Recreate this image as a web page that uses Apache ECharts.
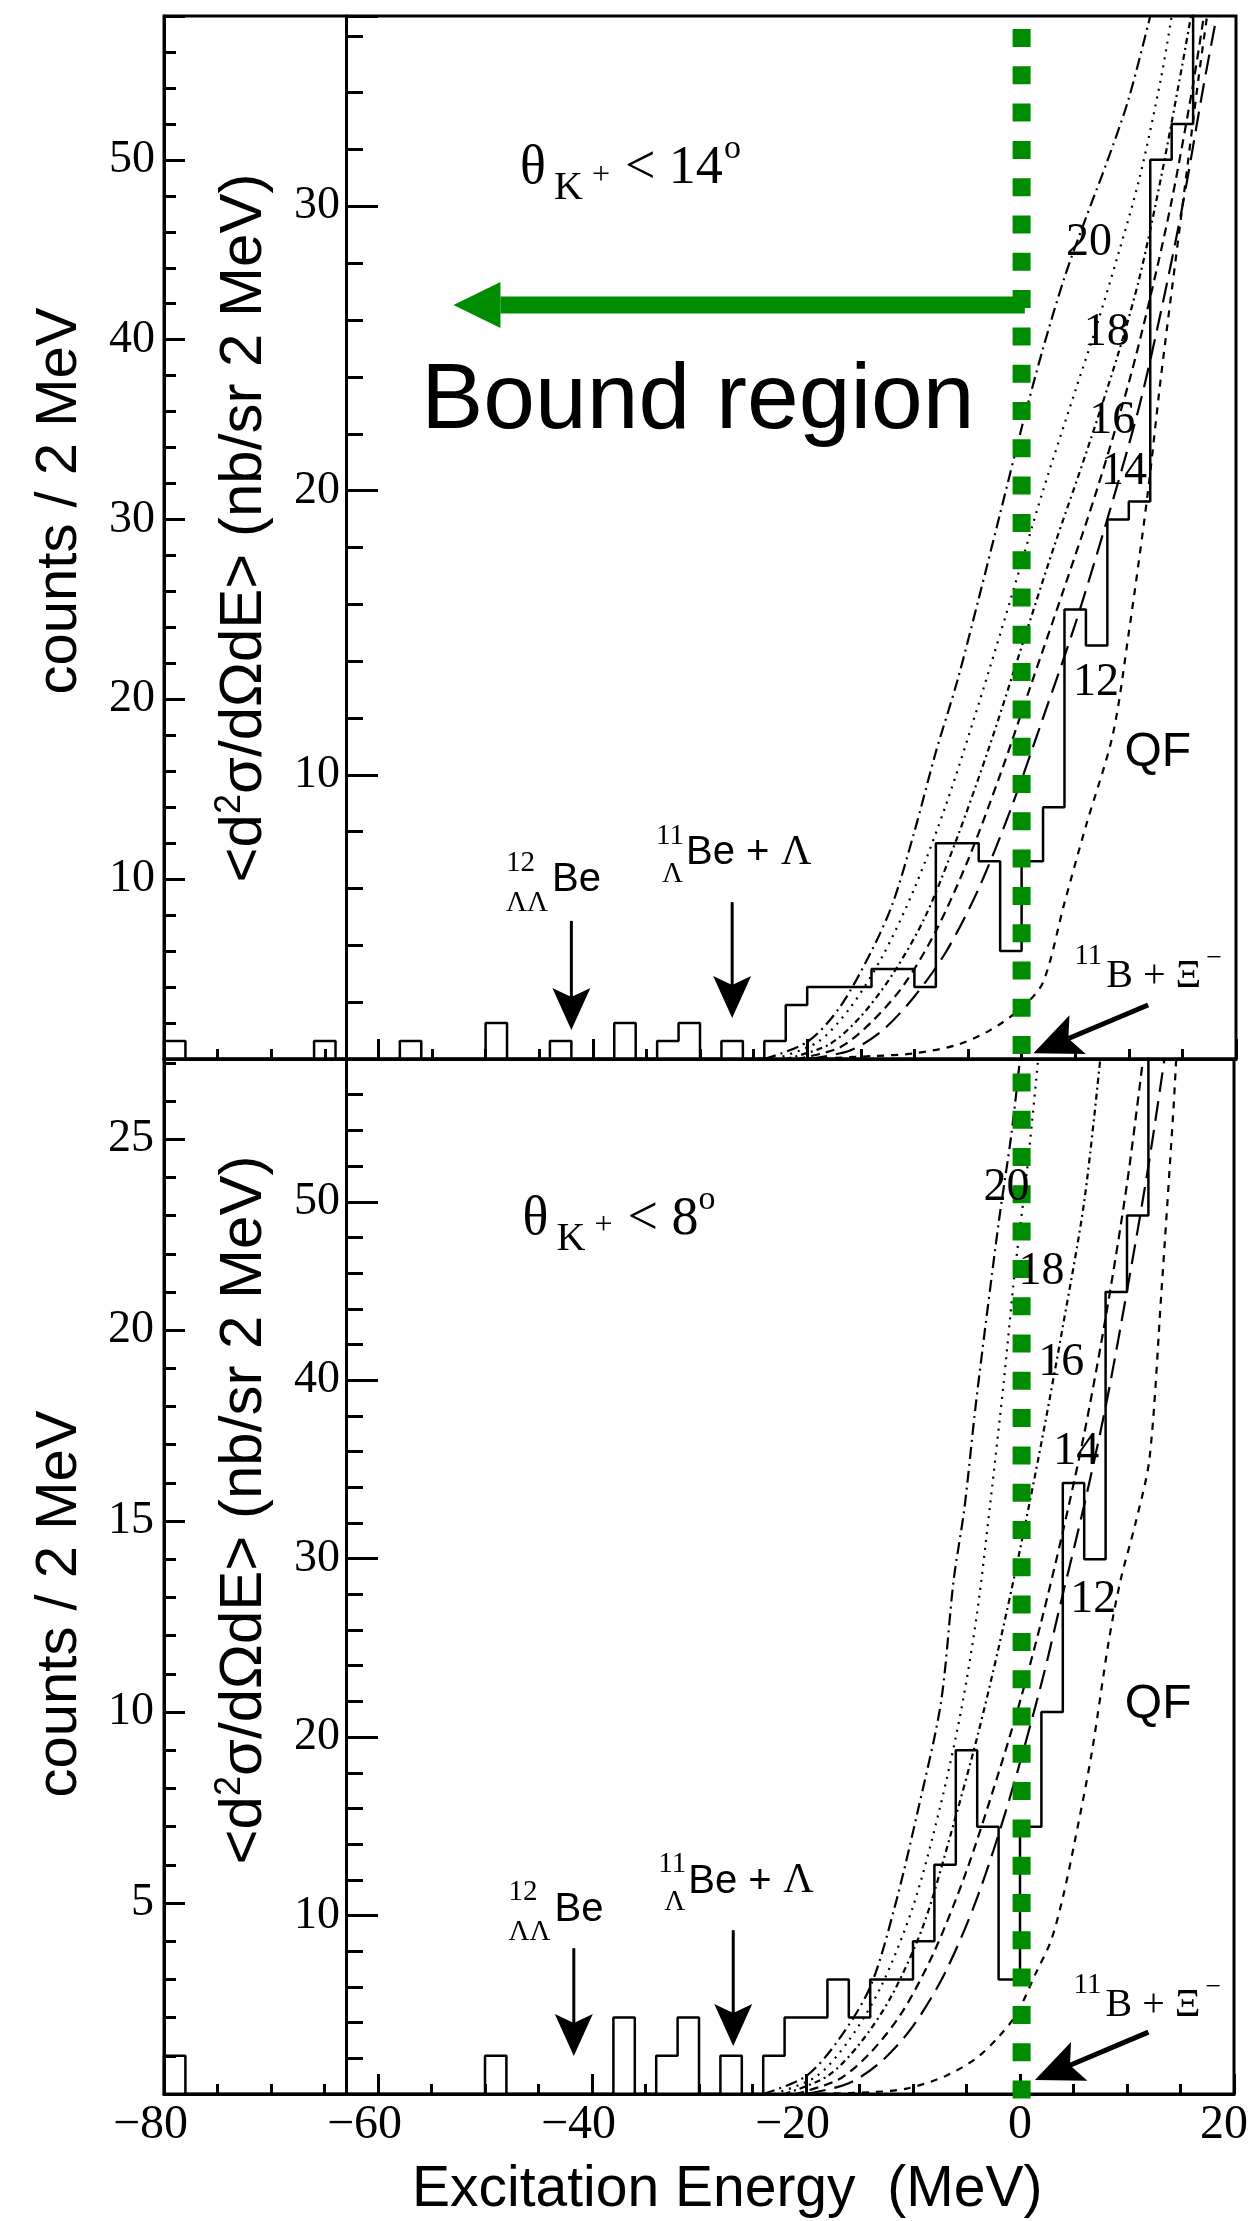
<!DOCTYPE html>
<html>
<head>
<meta charset="utf-8">
<script src="https://cdn.jsdelivr.net/npm/echarts@6/dist/echarts.min.js"></script>
<style>
html,body{margin:0;padding:0;background:#ffffff;}
#chart{width:1251px;height:2221px;}
</style>
</head>
<body>
<div id="chart"></div>
<script>
// ---------------- DATA ----------------
const binLeftEdges = [-80,-78,-76,-74,-72,-70,-68,-66,-64,-62,-60,-58,-56,-54,-52,-50,-48,-46,-44,-42,-40,-38,-36,-34,-32,-30,-28,-26,-24,-22,-20,-18,-16,-14,-12,-10,-8,-6,-4,-2,0,2,4,6,8,10,12,14,16,18];
const upperCounts = [1,0,0,0,0,0,0,1,0,0,0,1,0,0,0,2,0,0,1,0,0,2,0,1,2,0,1,0,1,3,4,4,4,5,5,4,12,12,11,6,11,14,25,23,30,31,50,52,66,70];
const lowerCounts = [1,0,0,0,0,0,0,0,0,0,0,0,0,0,0,1,0,0,0,0,0,2,0,1,2,0,1,0,1,2,2,3,2,3,3,4,6,9,7,3,7,10,16,14,21,23,30,34,38,40];

// theoretical spectra, [E (MeV), nb/sr 2MeV]
const upperV20 = [[-24,0],[-20,0.6],[-17,1.8],[-14,3.8],[-12,5.5],[-10,8],[-8,10.8],[-6,13.3],[-4,16.2],[-2,19.2],[0,22.2],[2,25],[4,27.5],[6,29.6],[8,31.6],[10,33.8],[12,36.7]];
const upperV18 = [[-23,0],[-19,0.6],[-16,1.8],[-13,3.6],[-10,6],[-7,9],[-4,12.5],[-1,16.2],[2,20],[5,23.5],[7,25.8],[9,28.3],[11,31],[13,34.5],[14,36.7]];
const upperV16 = [[-22,0],[-18,0.5],[-15,1.5],[-12,3],[-9,5],[-6,7.8],[-3,11],[0,14.5],[3,18],[6,21.3],[9,24.8],[11,27.5],[13,31],[15,35],[15.8,36.7]];
const upperV14 = [[-21,0],[-17,0.4],[-14,1.3],[-11,2.6],[-8,4.5],[-5,7],[-2,10],[1,13.3],[4,16.6],[7,20],[10,23.8],[12,26.8],[14,30.2],[16,34.3],[17,36.7]];
const upperV12 = [[-20,0],[-16,0.3],[-13,1],[-10,2.2],[-7,3.8],[-4,6],[-1,8.8],[2,12],[5,15.3],[8,19],[11,23],[13,26.3],[15,30],[17,34.3],[18.2,36.7]];
const upperQF  = [[-20,0],[-14,0.1],[-10,0.2],[-6,0.5],[-3,1],[0,1.8],[2,2.7],[4,5.5],[6,8.2],[8.5,11.4],[10,15],[11.7,19.7],[13,24],[15,30],[16.5,34.5],[17.3,36.7]];

const lowerV20 = [[-24,0],[-20,1],[-17,3],[-14,6],[-11.7,10.5],[-9.5,16],[-7.4,21.9],[-6.2,28.8],[-5.2,32.8],[-4.1,38.8],[-2,48.8],[-0.8,53.8],[0,58]];
const lowerV18 = [[-23,0],[-19,1],[-16,3],[-13,6],[-10,10.5],[-7.5,16],[-5.5,21.5],[-4,27],[-2.8,33],[-1.5,40],[-0.5,46],[0.7,52],[1.7,58]];
const lowerV16 = [[-22,0],[-18,1],[-15,2.8],[-12,5.5],[-9,9.5],[-6.5,14.5],[-4,20],[-2,25],[0,30.5],[2,36.5],[4,43],[6,50],[7.5,58]];
const lowerV14 = [[-21,0],[-17,0.8],[-14,2.3],[-11,4.6],[-8,8],[-5,12.5],[-2,18],[0,22],[2,26.5],[4,31.5],[6,37],[8,43.5],[10,51],[11.5,58]];
const lowerV12 = [[-20,0],[-16,0.6],[-13,1.8],[-10,3.8],[-7,6.8],[-4,11],[-1,16.5],[2,23],[4,28],[6,33],[8,38.5],[10,45],[12,52],[13.5,58]];
const lowerQF  = [[-20,0],[-14,0.1],[-10.6,0.3],[-7,1],[-4.1,2],[-2,3.2],[-0.3,4.5],[1.5,6.8],[2.9,8.6],[4,11],[5.1,14.1],[6.7,19.1],[8.3,25.4],[9.4,28.8],[10.8,32],[12.1,35.6],[13.2,44.8],[14.3,54.8],[14.6,58]];

const xTicks = [-80,-60,-40,-20,0,20];
const binWidth = 2;

// ---------------- STYLE / LAYOUT ----------------
const SERIF = "'Liberation Serif','Times New Roman','DejaVu Serif',serif";
const SANS = "'Liberation Sans',Arial,Helvetica,sans-serif";
const BLACK = '#000000';
const GREEN = '#008c00';
const frame = {color: BLACK, width: 3};

const curveStyle = {
  v20: [12,5,2,5],
  v18: [2,6],
  v16: [6,4,2,4],
  v14: [9,6],
  v12: [20,9],
  qf:  [7,7]
};

function histPoints(edges, counts) {
  const pts = [[edges[0], 0]];
  edges.forEach((e, i) => { pts.push([e, counts[i]]); pts.push([e + binWidth, counts[i]]); });
  return pts;
}

function xAxisCfg(gi, withLabels) {
  return {
    type: 'value', gridIndex: gi, min: -80, max: 20, interval: 20,
    axisLine: {show: true, onZero: false, lineStyle: frame},
    axisTick: {show: true, inside: true, length: 20, lineStyle: frame},
    minorTick: {show: true, splitNumber: 4, length: 10, lineStyle: frame},
    splitLine: {show: false}, minorSplitLine: {show: false},
    axisLabel: withLabels ? {
      show: true, margin: 7, showMinLabel: true, showMaxLabel: true, hideOverlap: false,
      formatter: v => v < 0 ? '{n|\u2212' + (-v) + '}' : (v === 20 ? '{r|' + v + '}' : '{z|' + v + '}'),
      rich: {
        n: {fontFamily: SERIF, fontSize: 48, color: BLACK, padding: [0, 27, 0, 0]},
        r: {fontFamily: SERIF, fontSize: 48, color: BLACK, padding: [0, 20, 0, 0]},
        z: {fontFamily: SERIF, fontSize: 48, color: BLACK}
      }
    } : {show: false}
  };
}

function yAxisCfg(gi, max, interval, offset, tickLen, labelMargin, labelStep, showLine) {
  return {
    type: 'value', gridIndex: gi, position: 'left', offset: offset, min: 0, max: max, interval: interval,
    axisLine: {show: showLine, onZero: false, lineStyle: frame},
    axisTick: {show: true, inside: true, length: tickLen, lineStyle: frame},
    splitLine: {show: false},
    axisLabel: labelStep ? {
      show: true, margin: labelMargin, color: BLACK, fontFamily: SERIF, fontSize: 46,
      padding: [0, 0, 20, 0], showMinLabel: true, showMaxLabel: true,
      formatter: v => (v > 0 && Math.abs(v / labelStep - Math.round(v / labelStep)) < 1e-6) ? String(v) : ''
    } : {show: false}
  };
}

const innerOffset = -182;

const chart = echarts.init(document.getElementById('chart'), null, {renderer: 'canvas', width: 1251, height: 2221});

function curveSeries(data, yIdx, xIdx, dash) {
  return {type: 'line', xAxisIndex: xIdx, yAxisIndex: yIdx, data: data, symbol: 'none', smooth: 0.3,
          lineStyle: {color: BLACK, width: 2.2, type: dash}, clip: true, silent: true, z: 3};
}

const option = {
  animation: false,
  backgroundColor: '#ffffff',
  grid: [
    {left: 164, top: 16, width: 1072, height: 1043, show: true, borderColor: BLACK, borderWidth: 3, backgroundColor: 'transparent'},
    {left: 164, top: 1059, width: 1072, height: 1035, show: true, borderColor: BLACK, borderWidth: 3, backgroundColor: 'transparent'},
    {left: 164, top: 29, width: 1072, height: 2071, show: false}
  ],
  xAxis: [
    xAxisCfg(0, false),
    xAxisCfg(1, true),
    {type: 'value', gridIndex: 2, min: -80, max: 20, show: false}
  ],
  yAxis: [
    yAxisCfg(0, 58, 10, 0, 21, 9, 10, true),            // 0 upper counts
    yAxisCfg(0, 36.7, 10, innerOffset, 32, 6, 10, true),  // 1 upper nb
    yAxisCfg(1, 27.1, 5, 0, 21, 10, 5, true),            // 2 lower counts
    yAxisCfg(1, 58, 10, innerOffset, 32, 6, 10, true),    // 3 lower nb
    {type: 'value', gridIndex: 2, min: 0, max: 1, show: false}, // 4 green line
    yAxisCfg(0, 58, 2, 0, 12, 0, 0, false),              // 5 minor ticks
    yAxisCfg(0, 36.7, 2, innerOffset, 17, 0, 0, false),  // 6
    yAxisCfg(1, 27.1, 1, 0, 12, 0, 0, false),            // 7
    yAxisCfg(1, 58, 2, innerOffset, 17, 0, 0, false)     // 8
  ],
  series: [
    {type: 'line', xAxisIndex: 0, yAxisIndex: 0, data: histPoints(binLeftEdges, upperCounts), symbol: 'none',
     lineStyle: {color: BLACK, width: 2.5}, clip: true, silent: true, z: 4},
    {type: 'line', xAxisIndex: 1, yAxisIndex: 2, data: histPoints(binLeftEdges, lowerCounts), symbol: 'none',
     lineStyle: {color: BLACK, width: 2.5}, clip: true, silent: true, z: 4},
    curveSeries(upperV20, 1, 0, curveStyle.v20),
    curveSeries(upperV18, 1, 0, curveStyle.v18),
    curveSeries(upperV16, 1, 0, curveStyle.v16),
    curveSeries(upperV14, 1, 0, curveStyle.v14),
    curveSeries(upperV12, 1, 0, curveStyle.v12),
    curveSeries(upperQF, 1, 0, curveStyle.qf),
    curveSeries(lowerV20, 3, 1, curveStyle.v20),
    curveSeries(lowerV18, 3, 1, curveStyle.v18),
    curveSeries(lowerV16, 3, 1, curveStyle.v16),
    curveSeries(lowerV14, 3, 1, curveStyle.v14),
    curveSeries(lowerV12, 3, 1, curveStyle.v12),
    curveSeries(lowerQF, 3, 1, curveStyle.qf),
    {type: 'line', xAxisIndex: 2, yAxisIndex: 4, data: [[0, 1], [0, 0]], symbol: 'none', silent: true, z: 10,
     lineStyle: {color: GREEN, width: 18, type: [18, 19.3], cap: 'butt'}}
  ]
};
chart.setOption(option);

// ---------------- ANNOTATIONS (anchored in data coordinates) ----------------
const annot = {
  upper: {
    theta: [-46.8, 30.68], bound: [-56.0, 22.0],
    greenTail: [0.3, 26.53], greenTip: [-53.0, 26.53],
    arrLL: [-42, 4.86, 1.02], arrL: [-27, 5.52, 1.44], xiFrom: [11.8, 1.9], xiTo: [1.1, 0.2],
    beLL: [-43.8, 5.81], beL: [-31.3, 6.76], bXi: [7.9, 2.43],
    labels: [['20', 4.14, 28.15], ['18', 5.8, 25.0], ['16', 6.3, 21.9], ['14', 7.4, 20.1], ['12', 4.8, 12.67], ['QF', 9.6, 10.2]],
    thetaText: '14'
  },
  lower: {
    theta: [-46.5, 47.98],
    arrLL: [-41.7, 8.17, 2.13], arrL: [-26.8, 9.18, 2.69], xiFrom: [12.0, 3.47], xiTo: [1.4, 0.78],
    beLL: [-43.5, 9.57], beL: [-31.0, 11.14], bXi: [8.0, 4.2],
    labels: [['20', -3.4, 49.9], ['18', -0.15, 45.2], ['16', 1.7, 40.1], ['14', 3.1, 35.1], ['12', 4.7, 26.8], ['QF', 9.8, 20.9]],
    thetaText: '8'
  }
};

function P(gi, E, v) {
  return chart.convertToPixel({xAxisIndex: gi, yAxisIndex: gi === 0 ? 1 : 3}, [E, v]);
}
function txt(x, yb, s, size, fam, extra) {
  return {type: 'text', x: x, y: yb - 0.34 * size, silent: true, z: 20,
    style: Object.assign({text: s, fontSize: size, fontFamily: fam, fill: BLACK,
      align: 'left', verticalAlign: 'middle', textAlign: 'left', textVerticalAlign: 'middle'}, extra || {})};
}
function arrow(x0, y0, x1, y1, w, headLen, headHalf, notch, color) {
  const dx = x1 - x0, dy = y1 - y0, L = Math.hypot(dx, dy), ux = dx / L, uy = dy / L, nx = -uy, ny = ux;
  const bx = x1 - ux * headLen, by = y1 - uy * headLen;
  const mx = x1 - ux * (headLen - notch), my = y1 - uy * (headLen - notch);
  return [
    {type: 'line', silent: true, z: 20, shape: {x1: x0, y1: y0, x2: mx, y2: my}, style: {stroke: color, lineWidth: w}},
    {type: 'polygon', silent: true, z: 20, shape: {points: [[x1, y1], [bx + nx * headHalf, by + ny * headHalf], [mx, my], [bx - nx * headHalf, by - ny * headHalf]]},
     style: {fill: color}}
  ];
}

const g = [];
['upper', 'lower'].forEach((key, gi) => {
  const a = annot[key];
  const t = P(gi, a.theta[0], a.theta[1]);
  g.push(txt(t[0], t[1], '\u03b8', 54, SERIF));
  g.push(txt(t[0] + 34, t[1] + 15, 'K', 40, SERIF));
  g.push(txt(t[0] + 72, t[1] - 1, '+', 32, SERIF));
  g.push(txt(t[0] + 105, t[1], '< ' + a.thetaText, 54, SERIF));
  g.push(txt(t[0] + (a.thetaText === '14' ? 204 : 176), t[1] - 26, 'o', 34, SERIF));
  [a.arrLL, a.arrL].forEach(ar => {
    const p0 = P(gi, ar[0], ar[1]), p1 = P(gi, ar[0], ar[2]);
    g.push(...arrow(p0[0], p0[1], p1[0], p1[1], 3, 42, 19, 9, BLACK));
  });
  const x0 = P(gi, a.xiFrom[0], a.xiFrom[1]), x1 = P(gi, a.xiTo[0], a.xiTo[1]);
  g.push(...arrow(x0[0], x0[1], x1[0], x1[1], 5, 48, 21, 10, BLACK));
  const b1 = P(gi, a.beLL[0], a.beLL[1]);
  g.push(txt(b1[0] - 46, b1[1] - 21, '12', 29, SERIF));
  g.push(txt(b1[0] - 46, b1[1] + 19, '\u039b\u039b', 29, SERIF));
  g.push(txt(b1[0], b1[1], 'Be', 40, SANS));
  const b2 = P(gi, a.beL[0], a.beL[1]);
  g.push(txt(b2[0] - 30, b2[1] - 21, '11', 29, SERIF));
  g.push(txt(b2[0] - 24, b2[1] + 17, '\u039b', 29, SERIF));
  g.push(txt(b2[0], b2[1], 'Be + ', 40, SANS));
  g.push(txt(b2[0] + 95, b2[1], '\u039b', 42, SERIF));
  const b3 = P(gi, a.bXi[0], a.bXi[1]);
  g.push(txt(b3[0] - 32, b3[1] - 24, '11', 29, SERIF));
  g.push(txt(b3[0], b3[1], 'B + \u039e', 40, SERIF));
  g.push(txt(b3[0] + 100, b3[1] - 22, '\u2212', 28, SERIF));
  a.labels.forEach(l => {
    const p = P(gi, l[1], l[2]);
    g.push(l[0] === 'QF' ? txt(p[0], p[1], 'QF', 48, SANS) : txt(p[0], p[1], l[0], 46, SERIF));
  });
});

const ua = annot.upper;
const gt = P(0, ua.greenTip[0], ua.greenTip[1]), gtail = P(0, ua.greenTail[0], ua.greenTail[1]);
g.push(...arrow(gtail[0], gtail[1], gt[0], gt[1], 17, 47, 23, 0, GREEN));
const bp = P(0, ua.bound[0], ua.bound[1]);
g.push(txt(bp[0], bp[1], 'Bound region', 93, SANS));

g.push({type: 'text', x: 60, y: 501, rotation: Math.PI / 2, silent: true,
  style: {text: 'counts / 2 MeV', fontSize: 58, fontFamily: SANS, fill: BLACK, align: 'center', verticalAlign: 'middle', textAlign: 'center', textVerticalAlign: 'middle'}});
g.push({type: 'text', x: 60, y: 1604, rotation: Math.PI / 2, silent: true,
  style: {text: 'counts / 2 MeV', fontSize: 58, fontFamily: SANS, fill: BLACK, align: 'center', verticalAlign: 'middle', textAlign: 'center', textVerticalAlign: 'middle'}});
const xsRich = {s: {fontSize: 36, fontFamily: SANS, fill: BLACK, verticalAlign: 'top', lineHeight: 36}};
[[528], [1510]].forEach(c => {
  g.push({type: 'text', x: 244, y: c[0], rotation: Math.PI / 2, silent: true,
    style: {text: '<d{s|2}\u03c3/d\u03a9dE> (nb/sr 2 MeV)', rich: xsRich, fontSize: 60, lineHeight: 64, fontFamily: SANS, fill: BLACK,
            align: 'center', verticalAlign: 'middle', textAlign: 'center', textVerticalAlign: 'middle'}});
});
g.push(txt(412, 2210, 'Excitation Energy  (MeV)', 57, SANS));

chart.setOption({graphic: g});
</script>
</body>
</html>
